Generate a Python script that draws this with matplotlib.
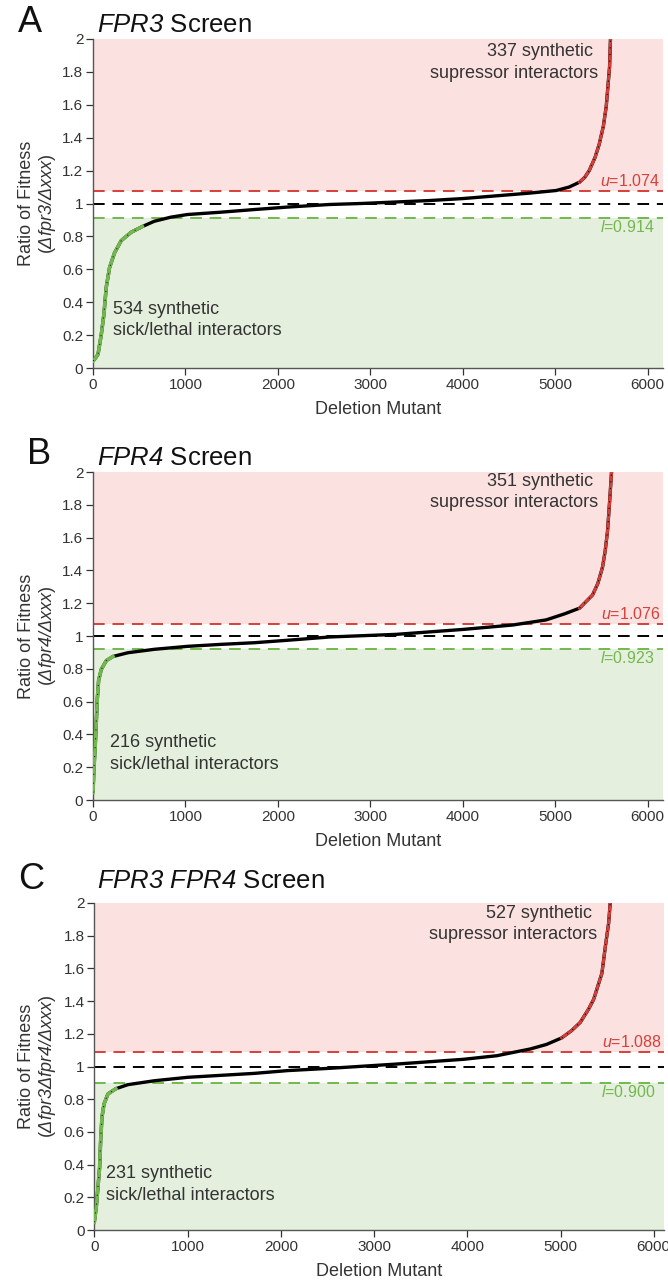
import matplotlib.pyplot as plt
import numpy as np

plt.rcParams["font.family"] = ["Liberation Sans", "DejaVu Sans"]
plt.rcParams["mathtext.fontset"] = "custom"
plt.rcParams["mathtext.it"] = "Liberation Sans:italic"
plt.rcParams["mathtext.rm"] = "Liberation Sans:italic"

# sorted fitness ratios (rank of deletion mutant, ratio)
rank_a = [0, 20, 54, 90, 118, 143, 179, 233, 305, 412, 534, 663, 842, 1022, 1380, 1738,
          2097, 2560, 2900, 3640, 4000, 4719, 5010, 5150, 5263, 5320, 5367, 5430, 5475,
          5520, 5551, 5587, 5600]
ratio_a = [0.043, 0.055, 0.083, 0.205, 0.327, 0.49, 0.61, 0.70, 0.774, 0.825, 0.86, 0.892,
           0.917, 0.933, 0.947, 0.963, 0.978, 0.994, 1.0, 1.018, 1.03, 1.063, 1.079, 1.10,
           1.13, 1.16, 1.20, 1.28, 1.36, 1.47, 1.59, 1.83, 2.05]

rank_b = [0, 11, 25, 36, 47, 61, 90, 144, 216, 378, 665, 1025, 1385, 1745, 2104, 2560,
          3279, 4000, 4540, 4900, 5100, 5263, 5403, 5460, 5511, 5540, 5565, 5590, 5614]
ratio_b = [0.045, 0.197, 0.34, 0.48, 0.62, 0.73, 0.797, 0.85, 0.875, 0.898, 0.919, 0.937,
           0.949, 0.959, 0.974, 0.994, 1.01, 1.04, 1.067, 1.098, 1.135, 1.17, 1.25, 1.32,
           1.42, 1.52, 1.64, 1.84, 2.05]

rank_c = [0, 21, 39, 57, 68, 82, 104, 146, 231, 361, 646, 1004, 1361, 1718, 2075, 2529,
          3244, 3960, 4317, 4675, 4850, 5013, 5120, 5212, 5300, 5355, 5444, 5480, 5516, 5540]
ratio_c = [0.047, 0.139, 0.26, 0.383, 0.546, 0.689, 0.77, 0.832, 0.864, 0.889, 0.913, 0.934,
           0.946, 0.958, 0.975, 0.989, 1.015, 1.044, 1.066, 1.107, 1.135, 1.175, 1.22, 1.27,
           1.35, 1.41, 1.57, 1.73, 1.876, 2.05]

upper = [1.074, 1.076, 1.088]
lower = [0.914, 0.923, 0.900]
n_sick = [534, 216, 231]
n_supp = [337, 351, 527]
genes = ["FPR3", "FPR4", r"FPR3\ FPR4"]
ylab2 = [r"\Delta fpr3/\Delta xxx", r"\Delta fpr4/\Delta xxx", r"\Delta fpr3\Delta fpr4/\Delta xxx"]
letters = ["A", "B", "C"]

RED_BG = "#fce1e1"
GREEN_BG = "#e4f0dd"
RED = "#d6403a"
GREEN = "#72b84e"
TXT = "#333333"

W, H = 668, 1280
fig = plt.figure(figsize=(W / 100, H / 100), dpi=100)

# axes boxes in pixels: left, top, right, bottom
boxes = [(93, 39, 663, 368), (93, 472, 663, 800), (94.3, 903, 664, 1230)]
xmaxes = [6165, 6165, 6110]
letter_pos = [(18, 32), (27, 464), (18, 889)]
title_pos = [(97, 32), (97, 465), (97, 888)]
sick_pos = [(216, 0.41), (184, 0.40), (125, 0.395)]
supp_pos = [(5462, 1.975), (5460, 1.995), (5394, 1.99)]

ranks = [rank_a, rank_b, rank_c]
ratios = [ratio_a, ratio_b, ratio_c]

for i in range(3):
    l, t, r, b = boxes[i]
    ax = fig.add_axes([l / W, 1 - b / H, (r - l) / W, (b - t) / H])
    x = np.array(ranks[i])
    y = np.array(ratios[i])

    ax.set_xlim(0, xmaxes[i])
    ax.set_ylim(0, 2)
    ax.axhspan(upper[i], 2, color=RED_BG, lw=0, zorder=0)
    ax.axhspan(0, lower[i], color=GREEN_BG, lw=0, zorder=0)

    ax.axhline(upper[i], color=RED, lw=1.4, dashes=(6, 4), zorder=1)
    ax.axhline(1.0, color="black", lw=1.4, dashes=(6, 4), zorder=1)
    ax.axhline(lower[i], color=GREEN, lw=1.4, dashes=(6, 4), zorder=1)

    ax.plot(x, y, color="black", lw=2.4, zorder=3, solid_capstyle="butt")
    sick = x <= n_sick[i]
    supp = x >= x[-1] - n_supp[i]
    ax.plot(x[sick], y[sick], color=GREEN, lw=2.6, zorder=4)
    ax.plot(x[sick], y[sick], color="#222222", lw=0.8, dashes=(1, 7), zorder=5)
    ax.plot(x[supp], y[supp], color=RED, lw=2.2, zorder=4)
    ax.plot(x[supp], y[supp], color="black", lw=0.8, dashes=(1, 5), zorder=5)

    trans = ax.get_yaxis_transform()
    ax.text(0.995, upper[i] + 0.012, r"$u$" + "=%.3f" % upper[i], color=RED,
            fontsize=11.5, ha="right", va="bottom", transform=trans)
    ax.text(0.985, lower[i] - 0.01, r"$l$" + "=%.3f" % lower[i], color=GREEN,
            fontsize=11.5, ha="right", va="top", transform=trans)

    ax.text(sick_pos[i][0], sick_pos[i][1], "%d synthetic\nsick/lethal interactors" % n_sick[i],
            fontsize=13, color=TXT, ha="left", va="top", linespacing=1.35)
    ax.text(supp_pos[i][0], supp_pos[i][1], "%d synthetic \nsupressor interactors" % n_supp[i],
            fontsize=13, color=TXT, ha="right", va="top", multialignment="right",
            linespacing=1.35)

    ax.set_xticks(np.arange(0, 6001, 1000))
    ax.set_yticks(np.arange(0, 2.01, 0.2))
    ax.set_yticklabels(["0", "0.2", "0.4", "0.6", "0.8", "1", "1.2", "1.4", "1.6", "1.8", "2"])
    ax.tick_params(labelsize=11, colors=TXT, length=5, width=0.9, pad=2)
    for s in ["top", "right"]:
        ax.spines[s].set_visible(False)
    for s in ["left", "bottom"]:
        ax.spines[s].set_color("#555555")
        ax.spines[s].set_linewidth(1.0)
    ax.set_xlabel("Deletion Mutant", fontsize=13, color=TXT, labelpad=7)

    yc = 1 - (t + b) / 2 / H
    fig.text(27 / W, yc, "Ratio of Fitness", rotation=90, fontsize=13, color=TXT,
             ha="center", va="center")
    fig.text(48 / W, yc, "($%s$)" % ylab2[i], rotation=90, fontsize=13,
             color=TXT, ha="center", va="center")

    fig.text(letter_pos[i][0] / W, 1 - letter_pos[i][1] / H, letters[i], fontsize=26,
             color="#111111", ha="left", va="baseline")
    fig.text(title_pos[i][0] / W, 1 - title_pos[i][1] / H,
             "$%s$ Screen" % genes[i], fontsize=18.5, color="#111111",
             ha="left", va="baseline")

fig.savefig("out.png", dpi=100, facecolor="white")
